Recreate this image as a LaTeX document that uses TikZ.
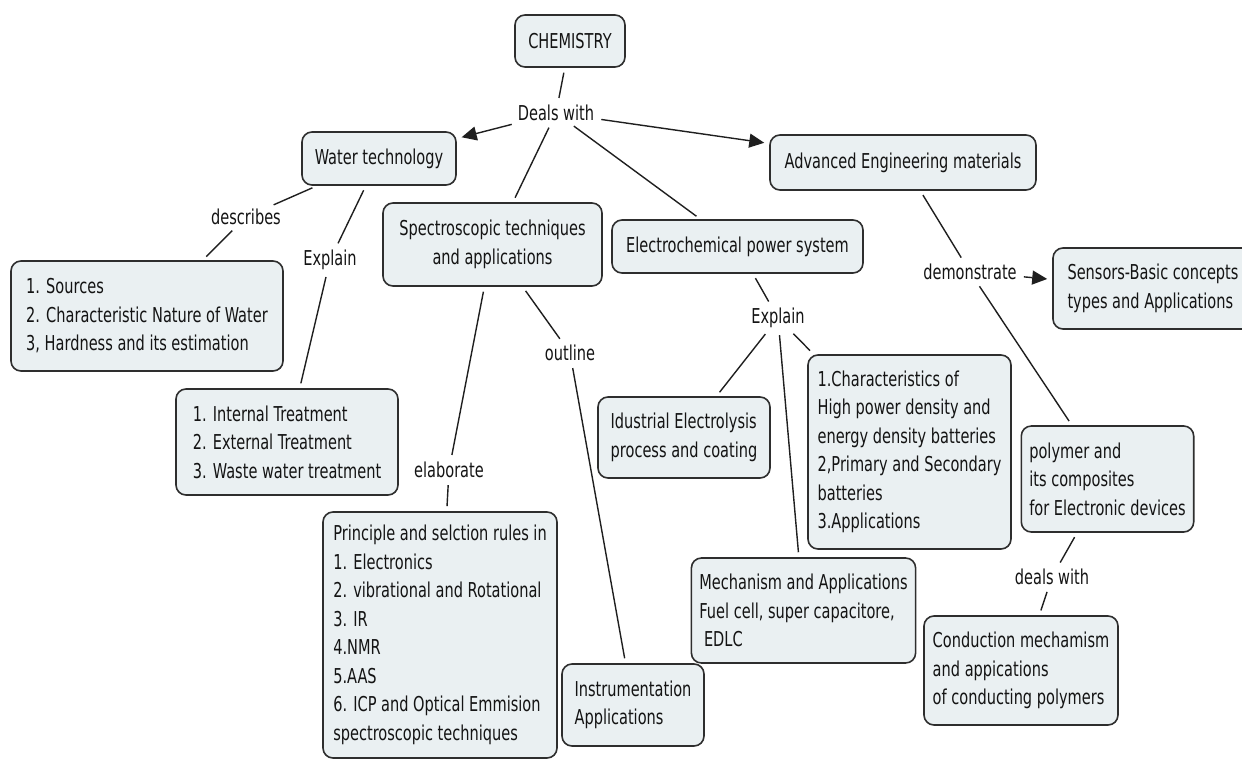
\documentclass[tikz,border=0pt]{standalone}
\usepackage{fontspec}
\newfontfamily\mapfont{DejaVu Sans}[FakeStretch=0.71]
\usetikzlibrary{arrows.meta}
\definecolor{boxfill}{HTML}{EAF0F2}
\definecolor{boxline}{HTML}{2E2E2E}
\tikzset{
	concept/.style={draw=boxline, fill=boxfill, line width=1.6pt, rounded corners=10pt, inner xsep=8pt, inner ysep=4pt, text=black!92, font=\mapfont\fontsize{20.5}{28.5}\selectfont},
	linkword/.style={inner sep=2pt, text=black!92, font=\mapfont\fontsize{20.5}{28.5}\selectfont},
	link/.style={draw=black!88, line width=1.4pt, shorten <=5pt, shorten >=5pt},
	linkarrow/.style={link, -{Triangle[length=15pt,width=14pt]}}
}

\begin{document}
\begin{tikzpicture}[x=1pt, y=-1pt]
			%%%%% START %%%%%
			\useasboundingbox (0, 0) rectangle (1242, 760);
			
			\node[concept, minimum width=110, minimum height=52, align=center] (chem) at (570, 41) {CHEMISTRY};
			\node[linkword] (dw) at (556, 113) {Deals with};
			
			\node[concept, minimum width=154, minimum height=53, align=center] (wat) at (379, 158.5) {Water technology};
			\node[concept, minimum width=266, minimum height=55, align=center] (aem) at (903, 162.5) {Advanced Engineering materials};
			\node[concept, minimum width=219, minimum height=83, align=center] (spec) at (492.5, 244.5) {Spectroscopic techniques\\and applications};
			\node[concept, minimum width=251, minimum height=53, align=center] (elec) at (737.5, 246.5) {Electrochemical power system};
			
			% water technology
			\node[linkword] (desc) at (246, 217) {describes};
			\node[linkword] (expw) at (330, 260) {Explain};
			\node[concept, minimum width=272, minimum height=110, align=left] (src) at (147, 316) {1. Sources\\2. Characteristic Nature of Water\\3, Hardness and its estimation};
			\node[concept, minimum width=222, minimum height=106, align=left] (treat) at (287, 442) {1. Internal Treatment\\2. External Treatment\\3. Waste water treatment};
			
			% spectroscopy
			\node[linkword] (elab) at (449, 470) {elaborate};
			\node[linkword] (outl) at (570, 353) {outline};
			\node[concept, minimum width=234, minimum height=246, align=left] (princ) at (440, 635) {Principle and selction rules in\\1. Electronics\\2. vibrational and Rotational\\3. IR\\4.NMR\\5.AAS\\6. ICP and Optical Emmision\\spectroscopic techniques};
			\node[concept, minimum width=142, minimum height=82, align=left] (instr) at (633, 705) {Instrumentation\\Applications};
			
			% electrochemistry
			\node[linkword] (expe) at (778, 318) {Explain};
			\node[concept, minimum width=172, minimum height=81, align=left] (ind) at (684, 437.5) {Idustrial Electrolysis\\process and coating};
			\node[concept, minimum width=203, minimum height=194, align=left] (char) at (909.5, 452) {1.Characteristics of\\High power density and\\energy density batteries\\2,Primary and Secondary\\batteries\\3.Applications};
			\node[concept, minimum width=223, minimum height=105, align=left] (mech) at (803.5, 610.5) {Mechanism and Applications\\Fuel cell, super capacitore,\\~EDLC};
			
			% materials
			\node[linkword] (demo) at (970, 272) {demonstrate};
			\node[concept, minimum width=200, minimum height=81, align=left] (sens) at (1153, 288.5) {Sensors-Basic concepts\\types and Applications};
			\node[concept, minimum width=169, minimum height=106, align=left] (poly) at (1107.5, 479) {polymer and\\its composites\\for Electronic devices};
			\node[linkword] (dwp) at (1052, 577) {deals with};
			\node[concept, minimum width=194, minimum height=109, align=left] (cond) at (1021, 670.5) {Conduction mechamism\\and appications\\of conducting polymers};
			
			\draw[link] (chem) -- (dw);
			\draw[linkarrow] (dw) -- (wat);
			\draw[linkarrow] (dw) -- (aem);
			\draw[link] (dw) -- (spec);
			\draw[link] (dw) -- (elec);
			
			\draw[link] (wat) -- (desc);
			\draw[link] (desc) -- (src);
			\draw[link] (wat) -- (expw);
			\draw[link] (expw) -- (treat);
			
			\draw[link] (spec) -- (elab);
			\draw[link] (elab) -- (princ);
			\draw[link] (spec) -- (outl);
			\draw[link] (outl) -- (instr);
			
			\draw[link] (elec) -- (expe);
			\draw[link] (expe) -- (ind);
			\draw[link] (expe) -- (mech);
			\draw[link] (expe) -- (char);
			
			\draw[link] (aem) -- (demo);
			\draw[linkarrow] (demo) -- (sens);
			\draw[link] (demo) -- (poly);
			\draw[link] (poly) -- (dwp);
			\draw[link] (dwp) -- (cond);
			%%%%% END %%%%%
\end{tikzpicture}
\end{document}
